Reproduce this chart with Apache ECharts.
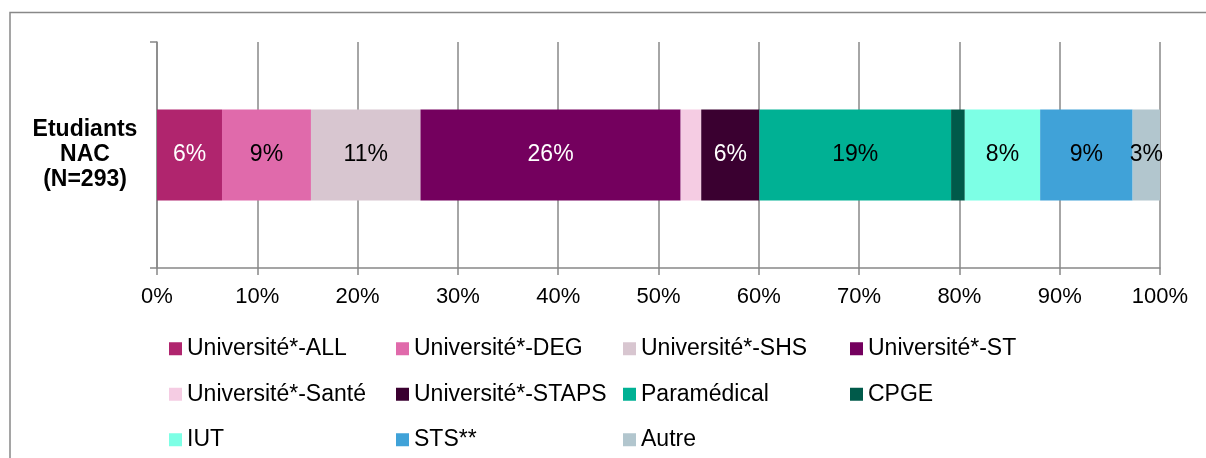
<!DOCTYPE html>
<html>
<head>
<meta charset="utf-8">
<script src="https://cdn.jsdelivr.net/npm/echarts@6/dist/echarts.min.js"></script>
<style>
  html, body { margin: 0; padding: 0; background: #fff; }
  #chart { width: 1206px; height: 458px; }
</style>
</head>
<body>
<div id="chart"></div>
<script>
  // one stacked bar, shares in % (counts out of 293)
  var categories = ['Etudiants\nNAC\n(N=293)']
  var seriesNames = ['Université*-ALL', 'Université*-DEG', 'Université*-SHS', 'Université*-ST',
    'Université*-Santé', 'Université*-STAPS', 'Paramédical', 'CPGE', 'IUT', 'STS**', 'Autre']
  var shares = [6.48, 8.87, 10.92, 25.94, 2.05, 5.80, 19.11, 1.37, 7.51, 9.22, 2.73]
  var showLabel = [true, true, true, true, false, true, true, false, true, true, true]
  var colors = ['#B0256E', '#E06AAB', '#D8C6D0', '#74005E', '#F5CCE3', '#3A0030',
    '#00B194', '#005A4A', '#7DFFE5', '#40A2D8', '#B2C6CE']
  var labelColors = ['#fff', '#000', '#000', '#fff', '#000', '#fff', '#000', '#000', '#000', '#000', '#000']
  var xTicks = [0, 10, 20, 30, 40, 50, 60, 70, 80, 90, 100]

  var font = '"Liberation Sans", Arial, sans-serif'
  var lineColor = '#888888'

  var chart = echarts.init(document.getElementById('chart'))

  var series = seriesNames.map(function (name, i) {
    return {
      name: name,
      type: 'bar',
      stack: 'total',
      barWidth: 91,
      itemStyle: { color: colors[i] },
      label: {
        show: showLabel[i],
        position: 'inside',
        color: labelColors[i],
        fontFamily: font,
        fontSize: 23,
        formatter: function (p) {
          return Math.round(p.value) + '%'
        }
      },
      emphasis: { disabled: true },
      data: [shares[i]]
    }
  })

  chart.setOption({
    animation: false,
    color: colors,
    graphic: [{
      type: 'rect',
      shape: { x: 10, y: 12.5, width: 1300, height: 600 },
      style: { fill: 'none', stroke: lineColor, lineWidth: 1.5 },
      silent: true
    }],
    grid: {
      left: 157,
      right: 46,
      top: 42,
      bottom: 190
    },
    legend: {
      left: 164,
      top: 321,
      width: 930,
      itemWidth: 13,
      itemHeight: 13,
      itemGap: 0,
      icon: 'rect',
      textStyle: {
        fontFamily: font,
        fontSize: 23,
        color: '#000',
        width: 209,
        lineHeight: 45.5
      },
      data: seriesNames
    },
    xAxis: {
      type: 'value',
      min: xTicks[0],
      max: xTicks[xTicks.length - 1],
      interval: 10,
      axisLine: { show: true, lineStyle: { color: lineColor, width: 1.5 } },
      axisTick: { show: true, length: 7, lineStyle: { color: lineColor, width: 1.5 } },
      splitLine: { show: true, lineStyle: { color: lineColor, width: 1.5 } },
      axisLabel: {
        margin: 18,
        fontFamily: font,
        fontSize: 22,
        color: '#000',
        formatter: '{value}%'
      }
    },
    yAxis: {
      type: 'category',
      data: categories,
      axisLine: { show: true, lineStyle: { color: lineColor, width: 1.5 } },
      axisTick: { show: true, length: 7, lineStyle: { color: lineColor, width: 1.5 } },
      axisLabel: {
        margin: 72,
        align: 'center',
        fontFamily: font,
        fontSize: 23,
        fontWeight: 'bold',
        lineHeight: 25,
        color: '#000'
      }
    },
    series: series
  })
</script>
</body>
</html>
